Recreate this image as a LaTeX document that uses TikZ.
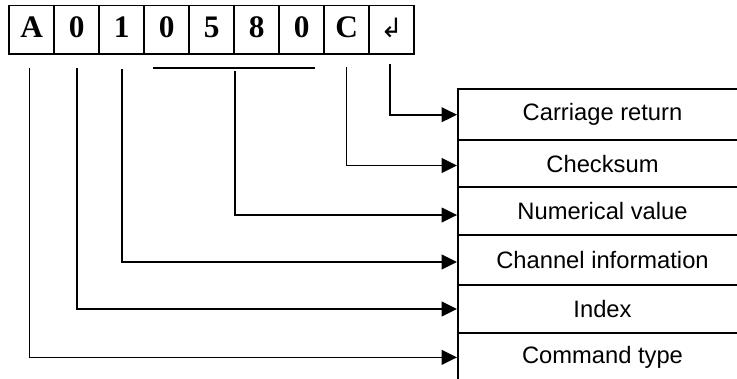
\documentclass[tikz,border=0pt]{standalone}
\usepackage{fontspec}
\setmainfont{Liberation Sans}
\newfontfamily\cellfont{Liberation Serif}
\newfontfamily\symfont{DejaVu Sans}
\usetikzlibrary{arrows.meta}
\begin{document}
\begin{tikzpicture}[x=0.75pt,y=-0.75pt,
  cell/.style={draw,line width=1.3pt,minimum width=33.7pt,minimum height=36.4pt,
    inner sep=0pt,text depth=3.4pt,font=\cellfont\bfseries\fontsize{23.5}{24}\selectfont},
  field/.style={draw,line width=1.5pt,minimum width=216.75pt,inner sep=0pt,
    font=\fontsize{17.8}{20}\selectfont},
  wire/.style={line width=1.3pt},
  link/.style={wire,-{Triangle[length=11.5pt,width=11pt]}}]
\useasboundingbox (0,0) rectangle (737,378);
\clip (0,0) rectangle (737,378);

% the transmitted frame, one cell per character
\node[cell] (c1) at (31.8,29.75) {A};
\node[cell] (c2) at (76.8,29.75) {0};
\node[cell] (c3) at (121.7,29.75) {1};
\node[cell] (c4) at (166.7,29.75) {0};
\node[cell] (c5) at (211.7,29.75) {5};
\node[cell] (c6) at (256.6,29.75) {8};
\node[cell] (c7) at (301.6,29.75) {0};
\node[cell] (c8) at (346.6,29.75) {C};
\node[cell] (c9) at (391.5,29.75) {\symfont\mdseries\fontsize{20}{20}\selectfont ↲};

% meaning of each part of the frame
\node[field,minimum height=38pt]   (cr) at (602.5,114.7) {Carriage return};
\node[field,minimum height=35.5pt] (cs) at (602.5,163.7) {Checksum};
\node[field,minimum height=36pt]   (nv) at (602.5,211.3) {Numerical value};
\node[field,minimum height=37pt]   (ci) at (602.5,260)   {Channel information};
\node[field,minimum height=36.45pt](ix) at (602.5,309)   {Index};
\node[field,minimum height=36.15pt](ct) at (602.5,357.4) {Command type};

% bracket grouping the four value digits
\coordinate (bl) at ([xshift=7.5pt,yshift=-10pt]c4.south west);
\coordinate (br) at ([xshift=-7.5pt,yshift=-10pt]c7.south east);
\coordinate (bm) at ([yshift=-10pt]c5.south east);
\draw[wire] (bl) -- (br);

% connectors
\draw[link] ([xshift=-1.8pt,yshift=-9.75pt]c1.south) |- (ct.west);
\draw[link] ([yshift=-9.75pt]c2.south) |- (ix.west);
\draw[link] ([yshift=-10.5pt]c3.south) |- ([yshift=-1.5pt]ci.west);
\draw[link] ([yshift=-2pt]bm) |- ([yshift=-2.8pt]nv.west);
\draw[link] ([yshift=-9pt]c8.south) |- ([yshift=-1.35pt]cs.west);
\draw[link] ([xshift=-1pt,yshift=-6.75pt]c9.south) |- (cr.west);
\end{tikzpicture}
\end{document}
